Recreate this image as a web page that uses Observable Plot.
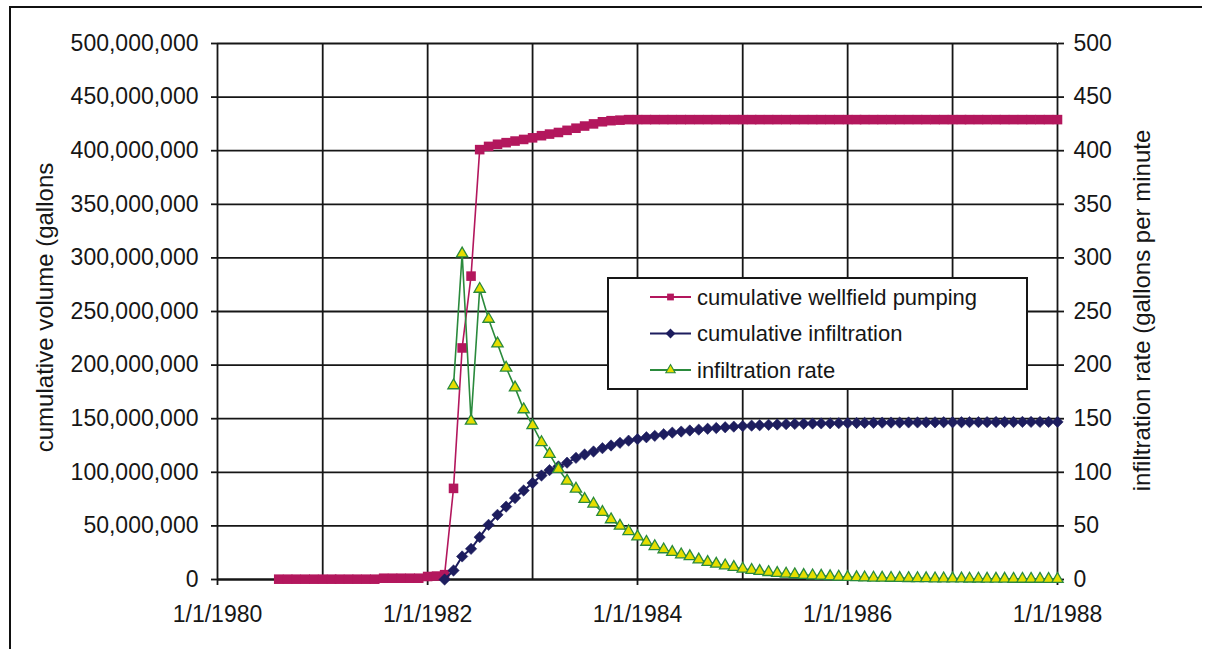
<!DOCTYPE html>
<html>
<head>
<meta charset="utf-8">
<script src="https://cdn.jsdelivr.net/npm/d3@7"></script>
<script src="https://cdn.jsdelivr.net/npm/@observablehq/plot@0.6"></script>
<style>
  html, body { margin: 0; padding: 0; background: #fff; }
  #wrap { position: relative; width: 1210px; height: 649px; overflow: hidden; font-family: "Liberation Sans", Arial, sans-serif; }
  #frame { position: absolute; left: 9px; top: 6px; width: 1191px; height: 700px; border-left: 2px solid #111; border-top: 2px solid #111; }
  #chart { position: absolute; left: 0; top: 0; }
  #legend { position: absolute; left: 607px; top: 277px; }
</style>
</head>
<body>
<div id="wrap">
  <div id="frame"></div>
  <div id="chart"></div>
  <div id="legend"></div>
</div>
<script>
// ---------------- data ----------------
// monthly series; first month of each series
const pumpingStart = "1980-08-01";
const infiltrationStart = "1982-03-01";
const rateStart = "1982-04-01";

// cumulative wellfield pumping, million gallons (Aug 1980 .. Jan 1988)
const pumpingMGal = [
  0.3, 0.3, 0.3, 0.3, 0.3, 0.3, 0.3, 0.3, 0.3, 0.3, 0.3, 0.3,
  1.2, 1.2, 1.2, 1.2, 1.2,
  2.8, 3.2, 4.5,
  85, 216, 283, 401, 404, 406, 407.5, 409, 410.5,
  412, 414, 415.5, 417, 419, 421, 423, 425, 427, 428, 428.5, 429,
  429, 429, 429, 429, 429, 429, 429, 429, 429, 429, 429, 429,
  429, 429, 429, 429, 429, 429, 429, 429, 429, 429, 429, 429,
  429, 429, 429, 429, 429, 429, 429, 429, 429, 429, 429, 429,
  429, 429, 429, 429, 429, 429, 429, 429, 429, 429, 429, 429,
  429
];

// cumulative infiltration, million gallons (Mar 1982 .. Jan 1988)
const infiltrationMGal = [
  0, 8.4, 21.5, 28.6, 39.5, 51, 60.3, 68, 76, 83,
  90, 97, 102, 105.5, 109, 113.5, 116.6, 119.4, 122.5, 125, 127.5, 129.5,
  131, 132.7, 134, 135.5, 137, 138, 139, 139.8, 140.6, 141.3, 142, 142.6,
  143.1, 143.5, 143.9, 144.3, 144.6, 144.9, 145.1, 145.3, 145.5, 145.6, 145.7, 145.8,
  145.9, 146, 146.1, 146.2, 146.3, 146.4, 146.4, 146.5, 146.5, 146.6, 146.6, 146.7,
  146.7, 146.7, 146.8, 146.8, 146.8, 146.9, 146.9, 146.9, 147, 147, 147, 147,
  147
];

// infiltration rate, gallons per minute (Apr 1982 .. Jan 1988)
const rateGpm = [
  181, 304, 148, 271, 243, 220, 197.5, 179, 158.6,
  143.7, 128, 117, 103, 92, 84.6, 75, 70.6, 62.8, 56, 50, 45,
  40, 35, 31, 28, 25.5, 23.3, 21.5, 18.5, 16.2, 14.6, 13, 11.5,
  10, 8.8, 7.8, 6.8, 5.9, 5.3, 4.7, 4.1, 3.7, 3.4, 2.9, 2.5,
  2.2, 2.0, 1.8, 1.6, 1.5, 1.4, 1.3, 1.2, 1.1, 1.0, 0.9, 0.9,
  0.8, 0.8, 0.7, 0.7, 0.6, 0.6, 0.6, 0.5, 0.5, 0.5, 0.5, 0.4,
  0.4
];

const seriesNames = ["cumulative wellfield pumping", "cumulative infiltration", "infiltration rate"];
const leftAxisTitle = "cumulative volume (gallons";
const rightAxisTitle = "infiltration rate (gallons per minute";

const leftTicks = [0, 50e6, 100e6, 150e6, 200e6, 250e6, 300e6, 350e6, 400e6, 450e6, 500e6];
const rightTickLabels = ["0", "50", "100", "150", "200", "250", "300", "350", "400", "450", "500"];
const gridYears = ["1980-01-01", "1981-01-01", "1982-01-01", "1983-01-01", "1984-01-01",
                   "1985-01-01", "1986-01-01", "1987-01-01", "1988-01-01"];
const xTickDates = ["1980-01-01", "1982-01-01", "1984-01-01", "1986-01-01", "1988-01-01"];
const xTickLabels = ["1/1/1980", "1/1/1982", "1/1/1984", "1/1/1986", "1/1/1988"];

// ---------------- build tables ----------------
const monthly = (start, values, scale) =>
  values.map((v, i) => ({date: d3.utcMonth.offset(new Date(start + "T00:00:00Z"), i), value: v * scale}));

const pumping = monthly(pumpingStart, pumpingMGal, 1e6);
const infiltration = monthly(infiltrationStart, infiltrationMGal, 1e6);
// rate shares the left scale: 1 gpm on the right axis == 1e6 on the left axis
const rate = monthly(rateStart, rateGpm, 1e6);

const toDate = s => new Date(s + "T00:00:00Z");
const gridDates = gridYears.map(toDate);
const tickDates = xTickDates.map(toDate);

const PINK = "#b3175d";
const NAVY = "#1d1d5e";
const GREEN = "#2a8a3c";
const YELLOW = "#e6de00";
const INK = "#161616";
const FONT = "'Liberation Sans', Arial, sans-serif";

const chart = Plot.plot({
  width: 1210,
  height: 649,
  marginLeft: 217,
  marginRight: 153,
  marginTop: 43,
  marginBottom: 70,
  style: {background: "transparent", fontFamily: FONT, fontSize: "23px", color: INK, overflow: "visible"},
  x: {type: "utc", domain: [toDate("1980-01-01"), toDate("1988-01-01")]},
  y: {domain: [0, 500e6]},
  marks: [
    Plot.gridY(leftTicks, {stroke: INK, strokeOpacity: 1, strokeWidth: 1.8}),
    Plot.gridX(gridDates, {stroke: INK, strokeOpacity: 1, strokeWidth: 1.8}),
    Plot.ruleY([0], {stroke: INK, strokeWidth: 2.2}),
    Plot.axisY(leftTicks, {anchor: "left", label: null, tickSize: 6, tickPadding: 13, strokeWidth: 1.8,
      fontSize: 23, tickFormat: d3.format(",")}),
    Plot.axisY(leftTicks, {anchor: "right", label: null, tickSize: 6, tickPadding: 10, strokeWidth: 1.8,
      fontSize: 23, tickFormat: d => rightTickLabels[leftTicks.indexOf(d)]}),
    Plot.axisX(tickDates, {anchor: "bottom", label: null, tickSize: 6, tickPadding: 20, strokeWidth: 1.8,
      fontSize: 23, tickFormat: d => xTickLabels[tickDates.findIndex(t => +t === +d)]}),
    Plot.text([leftAxisTitle], {text: d => d, frameAnchor: "left", textAnchor: "middle", rotate: -90,
      dx: -172, dy: -4, fontSize: 24, fill: INK}),
    Plot.text([rightAxisTitle], {text: d => d, frameAnchor: "right", textAnchor: "middle", rotate: -90,
      dx: 85, dy: -1, fontSize: 24, fill: INK}),
    // cumulative wellfield pumping
    Plot.line(pumping, {x: "date", y: "value", stroke: PINK, strokeWidth: 1.6}),
    Plot.dot(pumping, {x: "date", y: "value", symbol: "square", r: 5.4, fill: PINK, stroke: "none"}),
    // cumulative infiltration
    Plot.line(infiltration, {x: "date", y: "value", stroke: NAVY, strokeWidth: 2}),
    Plot.dot(infiltration, {x: "date", y: "value", symbol: "diamond2", r: 5.1, fill: NAVY, stroke: NAVY, strokeWidth: 0.6}),
    // infiltration rate
    Plot.line(rate, {x: "date", y: "value", stroke: GREEN, strokeWidth: 1.6}),
    Plot.dot(rate, {x: "date", y: "value", symbol: "triangle", r: 4.2, fill: YELLOW, stroke: GREEN, strokeWidth: 1.3})
  ]
});
document.getElementById("chart").appendChild(chart);

// ---------------- legend ----------------
const lw = 421, lh = 113;
const legendSvg = d3.create("svg").attr("width", lw).attr("height", lh)
  .style("font-family", FONT).style("overflow", "visible");
legendSvg.append("rect").attr("x", 1).attr("y", 1).attr("width", lw - 2).attr("height", lh - 2)
  .attr("fill", "#fff").attr("stroke", INK).attr("stroke-width", 2);
const legendStyles = [
  {stroke: PINK, fill: PINK, mstroke: "none", sym: d3.symbolSquare, size: 46},
  {stroke: NAVY, fill: NAVY, mstroke: NAVY, sym: d3.symbolDiamond2, size: 44},
  {stroke: GREEN, fill: YELLOW, mstroke: GREEN, sym: d3.symbolTriangle, size: 38}
];
seriesNames.forEach((name, i) => {
  const cy = 20 + i * 36.5;
  const s = legendStyles[i];
  const g = legendSvg.append("g");
  g.append("line").attr("x1", 43).attr("x2", 84).attr("y1", cy).attr("y2", cy)
    .attr("stroke", s.stroke).attr("stroke-width", 1.8);
  g.append("path").attr("d", d3.symbol(s.sym, s.size)()).attr("transform", `translate(63.5,${cy})`)
    .attr("fill", s.fill).attr("stroke", s.mstroke).attr("stroke-width", 1.1);
  g.append("text").attr("x", 90).attr("y", cy).attr("dy", "0.35em")
    .attr("font-size", 22).attr("fill", INK).text(name);
});
document.getElementById("legend").appendChild(legendSvg.node());
</script>
</body>
</html>
